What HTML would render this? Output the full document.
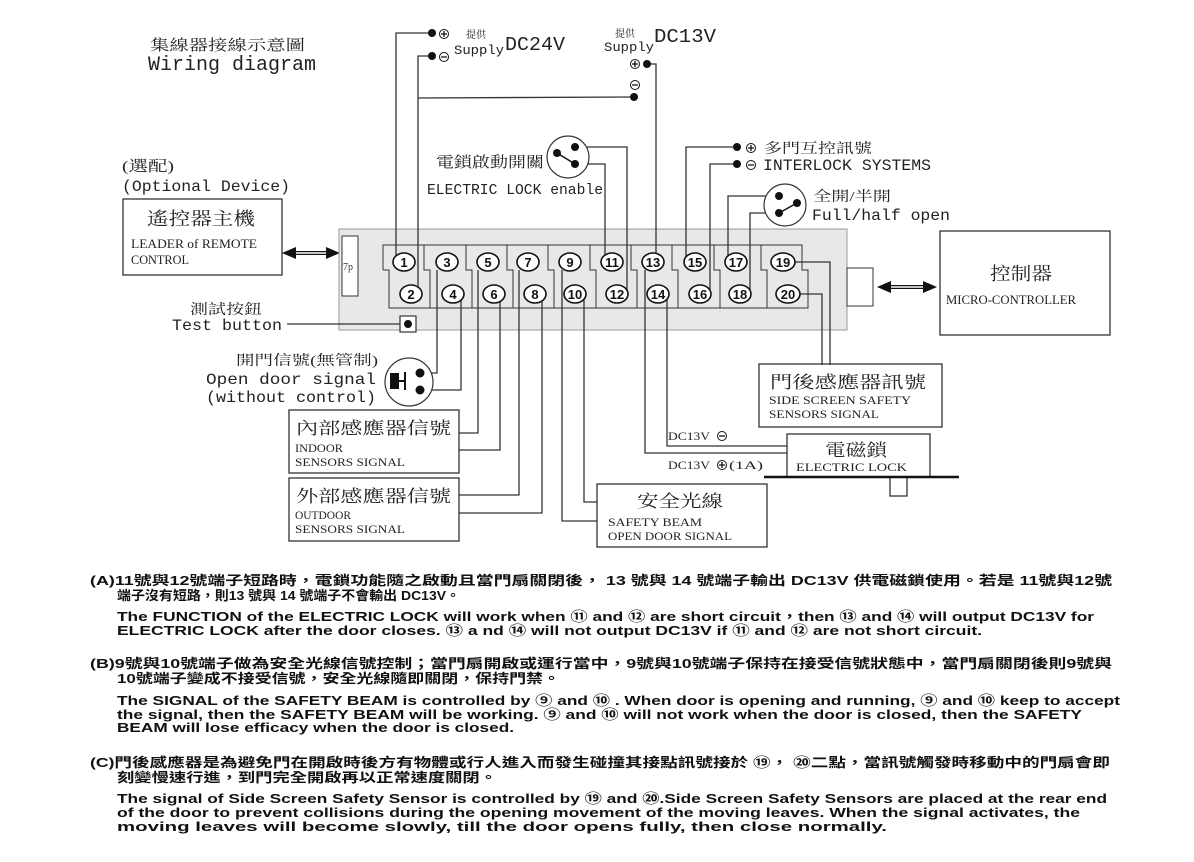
<!DOCTYPE html>
<html><head><meta charset="utf-8"><style>
html,body{margin:0;padding:0;background:#fff;}
svg{display:block;}
.s{font-family:"Liberation Serif","Noto Serif CJK SC","Noto Sans CJK TC",serif;fill:#222;}
.m{font-family:"Liberation Mono","Noto Sans CJK TC",monospace;fill:#222;}
.b{font-family:"Liberation Sans","Noto Sans CJK TC",sans-serif;font-weight:bold;fill:#111;font-size:13px;}
.n{font-family:"Liberation Sans",sans-serif;font-weight:bold;font-size:13px;fill:#111;text-anchor:middle;}
</style></head><body>
<svg width="1194" height="862" viewBox="0 0 1194 862" xmlns="http://www.w3.org/2000/svg">
<g fill="none" stroke="#333" stroke-width="1.3">
<!-- title -->
</g>
<text class="s" x="150" y="50" font-size="15" textLength="155" lengthAdjust="spacingAndGlyphs">集線器接線示意圖</text>
<text class="m" x="148" y="70" font-size="20" textLength="168" lengthAdjust="spacingAndGlyphs">Wiring diagram</text>
<text class="s" x="122" y="171" font-size="15" textLength="52" lengthAdjust="spacingAndGlyphs">(選配)</text>
<text class="m" x="122" y="191" font-size="16" textLength="168" lengthAdjust="spacingAndGlyphs">(Optional Device)</text>
<!-- leader box -->
<rect x="123" y="199" width="159" height="76" fill="none" stroke="#333" stroke-width="1.3"/>
<text class="s" x="147" y="225" font-size="18" textLength="108" lengthAdjust="spacingAndGlyphs">遙控器主機</text>
<text class="s" x="131" y="248" font-size="13" textLength="126" lengthAdjust="spacingAndGlyphs">LEADER of REMOTE</text>
<text class="s" x="131" y="264" font-size="13" textLength="58" lengthAdjust="spacingAndGlyphs">CONTROL</text>
<!-- double arrow left -->
<line x1="292" y1="253" x2="330" y2="253" stroke="#111" stroke-width="4"/>
<line x1="294" y1="253" x2="328" y2="253" stroke="#fff" stroke-width="1.5"/>
<polygon points="282,253 296,247 296,259" fill="#111"/>
<polygon points="340,253 326,247 326,259" fill="#111"/>
<!-- terminal block -->
<rect x="339" y="229" width="508" height="101" fill="#e8e8e8" stroke="#999" stroke-width="1"/>
<rect x="342" y="236" width="16" height="60" fill="#fff" stroke="#333" stroke-width="1"/>
<text x="343" y="270" font-family="Liberation Serif,serif" font-size="10" fill="#333">7p</text>
<rect x="847" y="268" width="26" height="38" fill="#fff" stroke="#333" stroke-width="1"/>
<g fill="none" stroke="#333" stroke-width="1">
<polyline points="383,270 383,245 802,245 802,270 808,270 808,308 389,308 389,270 383,270"/>
<path d="M424,245V270h6V308 M466,245V270h6V308 M507,245V270h6V308 M548,245V270h6V308 M590,245V270h6V308 M631,245V270h6V308 M672,245V270h6V308 M714,245V270h6V308 M761,245V270h6V308"/>
</g>
<!-- test button -->
<rect x="400" y="316" width="16" height="16" fill="#fff" stroke="#333" stroke-width="1.2"/>
<circle cx="408" cy="324" r="4" fill="#111"/>
<line x1="287" y1="324" x2="400" y2="324" stroke="#333" stroke-width="1.2"/>
<text class="s" x="190" y="314" font-size="14" textLength="72" lengthAdjust="spacingAndGlyphs">測試按鈕</text>
<text class="m" x="172" y="330" font-size="16" textLength="110" lengthAdjust="spacingAndGlyphs">Test button</text>
<!-- wires -->
<g fill="none" stroke="#333" stroke-width="1.3">
<polyline points="396,258 396,33 432,33"/>
<polyline points="418,290 418,56 432,56"/>
<polyline points="418,98 634,97"/>
<polyline points="647,64 656,64 656,258"/>
<polyline points="575,147 627,147 627,290"/>
<polyline points="575,164 605,164 605,258"/>
<polyline points="737,147 686,147 686,258"/>
<polyline points="737,164 710,164 710,290"/>
<polyline points="779,196 728,196 728,258"/>
<polyline points="779,213 750,213 750,290"/>
<polyline points="795,262 830,262 830,365"/>
<polyline points="800,294 822,294 822,365"/>
<polyline points="437,270 437,373 420,373"/>
<polyline points="461,300 461,390 420,390"/>
<polyline points="478,270 478,433 459,433"/>
<polyline points="500,300 500,450 459,450"/>
<polyline points="519,270 519,495 459,495"/>
<polyline points="542,300 542,513 459,513"/>
<polyline points="562,270 562,521 597,521"/>
<polyline points="584,300 584,502 597,502"/>
<polyline points="645,270 645,453 787,453"/>
<polyline points="667,300 667,446 787,446"/>
</g>
<!-- terminals -->
<g fill="#fff" stroke="#111" stroke-width="1.6">
<ellipse cx="404" cy="262" rx="11" ry="9"/><ellipse cx="447" cy="262" rx="11" ry="9"/><ellipse cx="488" cy="262" rx="11" ry="9"/><ellipse cx="528" cy="262" rx="11" ry="9"/><ellipse cx="570" cy="262" rx="11" ry="9"/><ellipse cx="612" cy="262" rx="11" ry="9"/><ellipse cx="653" cy="262" rx="11" ry="9"/><ellipse cx="695" cy="262" rx="11" ry="9"/><ellipse cx="736" cy="262" rx="11" ry="9"/><ellipse cx="783" cy="262" rx="12" ry="9"/>
<ellipse cx="411" cy="294" rx="11" ry="9"/><ellipse cx="453" cy="294" rx="11" ry="9"/><ellipse cx="494" cy="294" rx="11" ry="9"/><ellipse cx="535" cy="294" rx="11" ry="9"/><ellipse cx="575" cy="294" rx="11" ry="9"/><ellipse cx="617" cy="294" rx="11" ry="9"/><ellipse cx="658" cy="294" rx="11" ry="9"/><ellipse cx="700" cy="294" rx="11" ry="9"/><ellipse cx="740" cy="294" rx="11" ry="9"/><ellipse cx="788" cy="294" rx="12" ry="9"/>
</g>
<g class="n">
<text x="404" y="267" class="n">1</text><text x="447" y="267" class="n">3</text><text x="488" y="267" class="n">5</text><text x="528" y="267" class="n">7</text><text x="570" y="267" class="n">9</text><text x="612" y="267" class="n">11</text><text x="653" y="267" class="n">13</text><text x="695" y="267" class="n">15</text><text x="736" y="267" class="n">17</text><text x="783" y="267" class="n">19</text>
<text x="411" y="299" class="n">2</text><text x="453" y="299" class="n">4</text><text x="494" y="299" class="n">6</text><text x="535" y="299" class="n">8</text><text x="575" y="299" class="n">10</text><text x="617" y="299" class="n">12</text><text x="658" y="299" class="n">14</text><text x="700" y="299" class="n">16</text><text x="740" y="299" class="n">18</text><text x="788" y="299" class="n">20</text>
</g>
<!-- supply terminals -->
<g fill="#111"><circle cx="432" cy="33" r="4"/><circle cx="432" cy="56" r="4"/><circle cx="647" cy="64" r="4"/><circle cx="634" cy="97" r="4"/><circle cx="737" cy="147" r="4"/><circle cx="737" cy="164" r="4"/></g>
<g fill="none" stroke="#111" stroke-width="1"><circle cx="444" cy="34" r="4.5"/><circle cx="444" cy="57" r="4.5"/><circle cx="635" cy="64" r="4.5"/><circle cx="635" cy="85" r="4.5"/><circle cx="751" cy="148" r="4.5"/><circle cx="751" cy="165" r="4.5"/></g>
<g stroke="#111" stroke-width="1.3"><path d="M441,34h6M444,31v6M441,57h6M632,64h6M635,61v6M632,85h6M748,148h6M751,145v6M748,165h6"/></g>
<text class="s" x="466" y="38" font-size="10">提供</text>
<text class="m" x="454" y="54" font-size="13" textLength="50" lengthAdjust="spacingAndGlyphs">Supply</text>
<text class="m" x="505" y="50" font-size="19" textLength="60" lengthAdjust="spacingAndGlyphs">DC24V</text>
<text class="s" x="615" y="37" font-size="10">提供</text>
<text class="m" x="604" y="51" font-size="13" textLength="50" lengthAdjust="spacingAndGlyphs">Supply</text>
<text class="m" x="654" y="42" font-size="19" textLength="62" lengthAdjust="spacingAndGlyphs">DC13V</text>
<!-- electric lock enable switch -->
<circle cx="568" cy="157" r="21" fill="#fff" stroke="#333" stroke-width="1.2"/>
<line x1="557" y1="153" x2="575" y2="164" stroke="#111" stroke-width="1.5"/>
<g fill="#111"><circle cx="575" cy="147" r="4"/><circle cx="557" cy="153" r="4"/><circle cx="575" cy="164" r="4"/></g>
<text class="s" x="436" y="167" font-size="15" textLength="108" lengthAdjust="spacingAndGlyphs">電鎖啟動開關</text>
<text class="m" x="427" y="194" font-size="15" textLength="176" lengthAdjust="spacingAndGlyphs">ELECTRIC LOCK enable</text>
<!-- interlock -->
<text class="s" x="764" y="153" font-size="14" textLength="108" lengthAdjust="spacingAndGlyphs">多門互控訊號</text>
<text class="m" x="763" y="170" font-size="16" textLength="168" lengthAdjust="spacingAndGlyphs">INTERLOCK SYSTEMS</text>
<!-- full/half switch -->
<circle cx="785" cy="205" r="21" fill="#fff" stroke="#333" stroke-width="1.2"/>
<line x1="779" y1="213" x2="797" y2="203" stroke="#111" stroke-width="1.5"/>
<g fill="#111"><circle cx="779" cy="196" r="4"/><circle cx="797" cy="203" r="4"/><circle cx="779" cy="213" r="4"/></g>
<text class="s" x="813" y="201" font-size="14" textLength="78" lengthAdjust="spacingAndGlyphs">全開/半開</text>
<text class="m" x="812" y="220" font-size="16" textLength="138" lengthAdjust="spacingAndGlyphs">Full/half open</text>
<!-- micro-controller -->
<rect x="940" y="231" width="170" height="104" fill="none" stroke="#333" stroke-width="1.3"/>
<text class="s" x="990" y="280" font-size="18" textLength="62" lengthAdjust="spacingAndGlyphs">控制器</text>
<text class="s" x="946" y="304" font-size="13" textLength="130" lengthAdjust="spacingAndGlyphs">MICRO-CONTROLLER</text>
<line x1="888" y1="287" x2="926" y2="287" stroke="#111" stroke-width="4"/>
<line x1="890" y1="287" x2="924" y2="287" stroke="#fff" stroke-width="1.5"/>
<polygon points="877,287 891,281 891,293" fill="#111"/>
<polygon points="937,287 923,281 923,293" fill="#111"/>
<!-- open door -->
<text class="s" x="236" y="365" font-size="14" textLength="142" lengthAdjust="spacingAndGlyphs">開門信號(無管制)</text>
<text class="m" x="206" y="384" font-size="16" textLength="170" lengthAdjust="spacingAndGlyphs">Open door signal</text>
<text class="m" x="206" y="402" font-size="16" textLength="170" lengthAdjust="spacingAndGlyphs">(without control)</text>
<circle cx="409" cy="382" r="24" fill="#fff" stroke="#333" stroke-width="1.2"/>
<rect x="390" y="373" width="9" height="16" fill="#111"/>
<path d="M399,381h6M405,372v18" stroke="#111" stroke-width="2" fill="none"/>
<circle cx="420" cy="373" r="4.5" fill="#111"/><circle cx="420" cy="390" r="4.5" fill="#111"/>
<!-- boxes -->
<g fill="none" stroke="#333" stroke-width="1.3">
<rect x="289" y="410" width="170" height="63"/>
<rect x="289" y="478" width="170" height="63"/>
<rect x="597" y="484" width="170" height="63"/>
<rect x="759" y="364" width="183" height="63"/>
<rect x="787" y="434" width="143" height="43"/>
<rect x="890" y="477" width="17" height="19"/>
</g>
<line x1="764" y1="477" x2="959" y2="477" stroke="#111" stroke-width="2.5"/>
<text class="s" x="296" y="434" font-size="17" textLength="155" lengthAdjust="spacingAndGlyphs">內部感應器信號</text>
<text class="s" x="295" y="452" font-size="12" textLength="48" lengthAdjust="spacingAndGlyphs">INDOOR</text>
<text class="s" x="295" y="466" font-size="12" textLength="110" lengthAdjust="spacingAndGlyphs">SENSORS SIGNAL</text>
<text class="s" x="296" y="502" font-size="17" textLength="155" lengthAdjust="spacingAndGlyphs">外部感應器信號</text>
<text class="s" x="295" y="519" font-size="12" textLength="56" lengthAdjust="spacingAndGlyphs">OUTDOOR</text>
<text class="s" x="295" y="533" font-size="12" textLength="110" lengthAdjust="spacingAndGlyphs">SENSORS SIGNAL</text>
<text class="s" x="637" y="507" font-size="17" textLength="86" lengthAdjust="spacingAndGlyphs">安全光線</text>
<text class="s" x="608" y="526" font-size="12" textLength="94" lengthAdjust="spacingAndGlyphs">SAFETY  BEAM</text>
<text class="s" x="608" y="540" font-size="12" textLength="124" lengthAdjust="spacingAndGlyphs">OPEN DOOR SIGNAL</text>
<text class="s" x="770" y="388" font-size="17" textLength="156" lengthAdjust="spacingAndGlyphs">門後感應器訊號</text>
<text class="s" x="769" y="404" font-size="12" textLength="142" lengthAdjust="spacingAndGlyphs">SIDE SCREEN SAFETY</text>
<text class="s" x="769" y="418" font-size="12" textLength="110" lengthAdjust="spacingAndGlyphs">SENSORS SIGNAL</text>
<text class="s" x="825" y="456" font-size="17" textLength="62" lengthAdjust="spacingAndGlyphs">電磁鎖</text>
<text class="s" x="796" y="471" font-size="12" textLength="111" lengthAdjust="spacingAndGlyphs">ELECTRIC  LOCK</text>
<text class="s" x="668" y="440" font-size="12" textLength="42" lengthAdjust="spacingAndGlyphs">DC13V</text>
<circle cx="722" cy="436" r="4.5" fill="none" stroke="#111"/><path d="M719,436h6" stroke="#111" stroke-width="1.3"/>
<text class="s" x="668" y="469" font-size="12" textLength="42" lengthAdjust="spacingAndGlyphs">DC13V</text>
<circle cx="722" cy="465" r="4.5" fill="none" stroke="#111"/><path d="M719,465h6M722,462v6" stroke="#111" stroke-width="1.3"/>
<text class="s" x="729" y="469" font-size="12" textLength="34" lengthAdjust="spacingAndGlyphs">(1A)</text>
<!-- bottom text -->
<text class="b" x="90" y="585" textLength="1022" lengthAdjust="spacingAndGlyphs">(A)11號與12號端子短路時，電鎖功能隨之啟動且當門扇關閉後， 13 號與 14 號端子輸出 DC13V 供電磁鎖使用。若是 11號與12號</text>
<text class="b" x="117" y="600" textLength="343" lengthAdjust="spacingAndGlyphs">端子沒有短路，則13 號與 14 號端子不會輸出 DC13V。</text>
<text class="b" x="117" y="621" textLength="977" lengthAdjust="spacingAndGlyphs">The FUNCTION of the ELECTRIC  LOCK will work when ⑪ and ⑫ are short circuit，then ⑬ and ⑭ will output  DC13V for</text>
<text class="b" x="117" y="635" textLength="865" lengthAdjust="spacingAndGlyphs">ELECTRIC  LOCK after the door closes.  ⑬ a  nd ⑭ will not output DC13V if ⑪ and ⑫ are not short circuit.</text>
<text class="b" x="90" y="668" textLength="1022" lengthAdjust="spacingAndGlyphs">(B)9號與10號端子做為安全光線信號控制；當門扇開啟或運行當中，9號與10號端子保持在接受信號狀態中，當門扇關閉後則9號與</text>
<text class="b" x="117" y="683" textLength="443" lengthAdjust="spacingAndGlyphs">10號端子變成不接受信號，安全光線隨即關閉，保持門禁。</text>
<text class="b" x="117" y="705" textLength="1003" lengthAdjust="spacingAndGlyphs">The SIGNAL of the SAFETY  BEAM is controlled by ⑨ and ⑩ . When door is opening  and running, ⑨ and ⑩ keep to accept</text>
<text class="b" x="117" y="719" textLength="965" lengthAdjust="spacingAndGlyphs">the signal, then the SAFETY  BEAM will be working. ⑨ and ⑩ will  not work when the door is closed, then the SAFETY</text>
<text class="b" x="117" y="732" textLength="397" lengthAdjust="spacingAndGlyphs">BEAM will lose efficacy when the door is closed.</text>
<text class="b" x="90" y="767" textLength="1020" lengthAdjust="spacingAndGlyphs">(C)門後感應器是為避免門在開啟時後方有物體或行人進入而發生碰撞其接點訊號接於 ⑲， ⑳二點，當訊號觸發時移動中的門扇會即</text>
<text class="b" x="117" y="782" textLength="380" lengthAdjust="spacingAndGlyphs">刻變慢速行進，到門完全開啟再以正常速度關閉。</text>
<text class="b" x="117" y="803" textLength="990" lengthAdjust="spacingAndGlyphs">The signal of Side Screen Safety Sensor is controlled by ⑲ and ⑳.Side Screen Safety Sensors are placed at the rear end</text>
<text class="b" x="117" y="817" textLength="963" lengthAdjust="spacingAndGlyphs">of the door to prevent collisions during the opening movement of  the moving leaves.  When the signal activates, the</text>
<text class="b" x="117" y="831" textLength="770" lengthAdjust="spacingAndGlyphs">moving leaves will become slowly, till the door opens fully, then close normally.</text>
</svg>
</body></html>
